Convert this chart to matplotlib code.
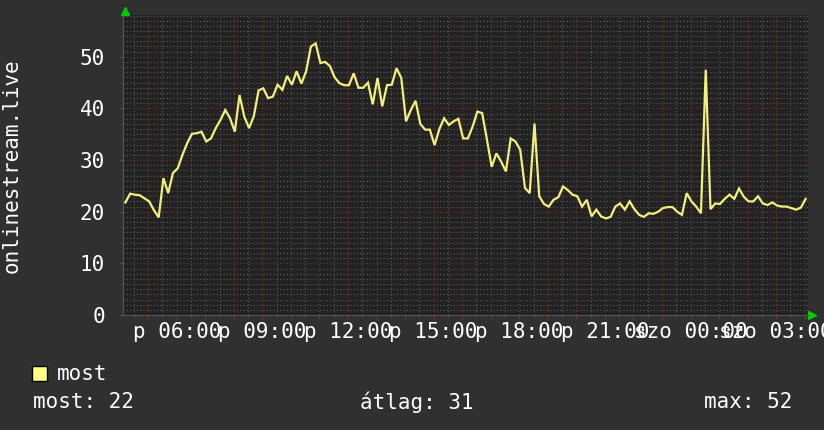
import numpy as np
import matplotlib.pyplot as plt
from matplotlib.patches import Rectangle

plt.rcParams['font.family'] = ['DejaVu Sans Mono', 'DejaVu Sans']

# 10-perces mintak, 04:07-tol 24 oran at
start_h = 4 + 7 / 60
step_h = 1 / 6
most = [21.8, 23.5, 23.3, 23.2, 22.6, 22.0, 20.3, 18.9, 26.5, 23.6,
        27.5, 28.4, 31.0, 33.3, 35.1, 35.2, 35.5, 33.6, 34.2, 36.2,
        37.8, 39.7, 38.1, 35.5, 42.6, 38.4, 36.2, 38.5, 43.5, 43.9,
        42.0, 42.3, 44.6, 43.6, 46.3, 44.6, 47.2, 44.8, 47.2, 52.0,
        52.6, 48.8, 49.0, 48.2, 46.0, 44.9, 44.5, 44.5, 46.8, 44.0,
        44.0, 45.0, 40.8, 45.9, 40.4, 44.5, 44.6, 47.8, 45.9, 37.5,
        39.7, 41.5, 37.0, 35.9, 35.9, 32.9, 36.0, 38.1, 36.8, 37.5,
        38.0, 34.2, 34.2, 36.5, 39.4, 39.1, 34.0, 28.7, 31.3, 29.7,
        27.8, 34.2, 33.6, 32.0, 24.6, 23.6, 37.1, 23.0, 21.5, 21.0,
        22.3, 22.8, 24.9, 24.2, 23.3, 23.0, 21.0, 22.3, 19.1, 20.4,
        19.1, 18.7, 19.0, 21.0, 21.6, 20.4, 22.0, 20.5, 19.4, 19.0,
        19.7, 19.6, 20.0, 20.7, 20.9, 20.9, 20.0, 19.4, 23.6, 22.0,
        21.0, 19.7, 47.5, 20.5, 21.6, 21.5, 22.5, 23.3, 22.5, 24.5,
        22.9, 22.0, 22.0, 23.0, 21.6, 21.3, 21.8, 21.2, 21.0, 21.0,
        20.7, 20.4, 20.8, 22.5]

tick_hours = [6, 9, 12, 15, 18, 21, 24, 27]
tick_labels = ['p 06:00', 'p 09:00', 'p 12:00', 'p 15:00',
               'p 18:00', 'p 21:00', 'szo 00:00', 'szo 03:00']
stat_most, stat_avg, stat_max = 22, 31, 52

bg_out = '#303030'
bg_plot = '#222222'
line_col = '#f2f07c'
grid_minor = '#5a5a5a'
grid_major = '#7a3434'

t = start_h + (np.arange(len(most)) + 0.5) * step_h

fig = plt.figure(figsize=(8.24, 4.30), dpi=100, facecolor=bg_out)
ax = fig.add_axes([123 / 824, 1 - 315 / 430, 685 / 824, 300 / 430])
ax.set_facecolor(bg_plot)

ax.plot(t, most, color=line_col, lw=1.6, zorder=3, solid_joinstyle='miter')

ax.set_xlim(start_h, start_h + 24)
ax.set_ylim(0, 58.1)

# racsvonalak
ax.set_xticks(np.arange(5, 29, 1.0))
ax.set_xticks(np.arange(4.5, 28.5, 1.0), minor=True)
ax.set_xticklabels(['' for _ in np.arange(5, 29, 1.0)])
ax.set_yticks(np.arange(0, 60, 10))
ax.set_yticks(np.arange(0, 59, 1), minor=True)
ax.grid(which='minor', color=grid_minor, linestyle=(0, (1, 2)), lw=0.8)
ax.grid(which='major', color=grid_major, linestyle=(0, (1, 2)), lw=0.8)
ax.set_axisbelow(True)

ax.tick_params(axis='x', which='major', color=grid_major, length=3, width=1)
ax.tick_params(axis='x', which='minor', color=grid_minor, length=2)
ax.tick_params(axis='y', which='major', color=grid_minor, length=2,
               labelsize=15, labelcolor='white', pad=11)
ax.tick_params(axis='y', which='minor', length=0)

for h, lab in zip(tick_hours, tick_labels):
    ax.text(h, -0.055, lab, transform=ax.get_xaxis_transform(),
            ha='center', va='center', fontsize=15, color='white')

for s in ['top', 'right']:
    ax.spines[s].set_visible(False)
for s in ['left', 'bottom']:
    ax.spines[s].set_color('#555555')

# zold nyilak az tengelyek vegen
ax.plot([0.003], [1.015], marker='^', color='#00cc00', ms=6,
        transform=ax.transAxes, clip_on=False)
ax.plot([1.006], [0.0], marker='>', color='#00cc00', ms=6,
        transform=ax.transAxes, clip_on=False)

fig.text(12 / 824, 1 - 166 / 430, 'onlinestream.live', rotation=90,
         ha='center', va='center', fontsize=15, color='white')

# jelmagyarazat
fig.patches.append(Rectangle((32 / 824, 1 - 381 / 430), 15 / 824, 15 / 430,
                             transform=fig.transFigure, facecolor='#ffff80',
                             edgecolor='black', lw=1))
fig.text(57 / 824, 1 - 374 / 430, 'most', ha='left', va='center',
         fontsize=15, color='white')
fig.text(33 / 824, 1 - 402 / 430, f'most: {stat_most}', ha='left',
         va='center', fontsize=15, color='white')
fig.text(360 / 824, 1 - 402 / 430, f'átlag: {stat_avg}', ha='left',
         va='center', fontsize=15, color='white')
fig.text(792 / 824, 1 - 402 / 430, f'max: {stat_max}', ha='right',
         va='center', fontsize=15, color='white')

fig.savefig('out.png', dpi=100, facecolor=bg_out)
